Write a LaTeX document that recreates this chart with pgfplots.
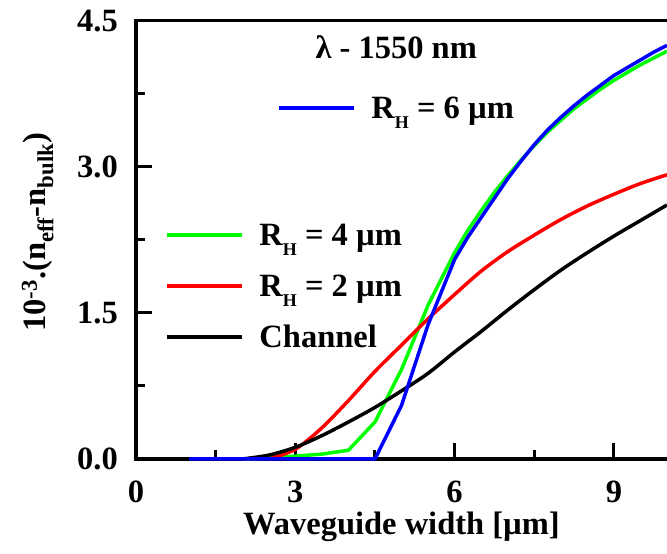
\documentclass[border=0pt]{standalone}
\usepackage{fontspec}
\setmainfont{Liberation Serif}
\usepackage{pgfplots}
\usepackage{pgfplotstable}
\pgfplotsset{compat=1.18}

\definecolor{cblue}{RGB}{0,0,255}
\definecolor{cgreen}{RGB}{0,255,0}
\definecolor{cred}{RGB}{255,0,0}

\newcommand{\lblfont}{\fontsize{32.5bp}{37bp}\selectfont\bfseries}
\newcommand{\subH}{\raisebox{-0.32em}{\fontsize{18bp}{18bp}\selectfont H}}

% effective index difference (x 1e-3) vs. waveguide width in um
\pgfplotstableread{
x y
2.0 0.00
2.5 0.04
3.0 0.12
3.5 0.24
4.0 0.38
4.5 0.53
5.0 0.70
5.5 0.88
6.0 1.10
6.5 1.31
7.0 1.53
7.5 1.74
8.0 1.94
8.5 2.12
9.0 2.29
9.5 2.45
10.0 2.61
}\channel
\pgfplotstableread{
x y
2.5 0.00
3.0 0.10
3.5 0.32
4.0 0.60
4.5 0.90
5.0 1.17
5.5 1.44
6.0 1.69
6.5 1.93
7.0 2.13
7.5 2.30
8.0 2.46
8.5 2.60
9.0 2.72
9.5 2.83
10.0 2.92
}\rhtwo
\pgfplotstableread{
x y
2.0 0.00
2.5 0.01
3.0 0.03
3.5 0.05
4.0 0.09
4.5 0.38
5.0 0.92
5.5 1.58
6.0 2.12
6.25 2.35
6.5 2.55
6.75 2.74
7.0 2.91
7.25 3.07
7.5 3.22
7.75 3.36
8.0 3.48
8.25 3.60
8.5 3.70
8.75 3.80
9.0 3.89
9.25 3.97
9.5 4.05
9.75 4.12
10.0 4.19
}\rhfour
\pgfplotstableread{
x y
1.0 0.00
2.0 0.00
3.0 0.00
4.0 0.00
4.5 0.00
5.0 0.55
5.5 1.38
6.0 2.05
6.25 2.28
6.5 2.48
6.75 2.68
7.0 2.88
7.25 3.06
7.5 3.23
7.75 3.38
8.0 3.51
8.25 3.63
8.5 3.74
8.75 3.84
9.0 3.94
9.25 4.02
9.5 4.10
9.75 4.18
10.0 4.25
}\rhsix

\pgfplotsset{
  common/.style={
    scale only axis, width=531bp, height=438bp,
    at={(136bp,95bp)}, anchor=south west,
    xmin=0, xmax=10, ymin=0, ymax=4.5, clip=false,
  },
  leg/.style={
    legend style={draw=none, fill=none, inner sep=0pt, outer sep=0pt,
      font=\lblfont, row sep=31bp, column sep=16bp,
      nodes={inner sep=0pt, text height=20bp, text depth=0bp, anchor=west}},
    legend cell align=left,
    legend image code/.code={\draw[##1, line width=3.5bp] (0bp,0bp) -- (75bp,0bp);},
  },
  curve/.style={line width=3.5bp, line join=round},
}

\begin{document}
\begin{tikzpicture}
\begin{axis}[common, leg,
  axis x line=box, axis y line=left,
  axis line style={-, line width=3bp, line cap=rect},
  every outer y axis line/.append style={-},
  xtick={0,3,6,9}, ytick={0,1.5,3,4.5},
  minor x tick num=1, minor y tick num=1,
  xtick pos=left, ytick pos=left,
  tick align=inside,
  major tick length=16bp, minor tick length=9bp,
  every tick/.style={black, line width=3bp},
  /pgf/number format/assume math mode=true,
  ticklabel style={font=\lblfont},
  yticklabel style={/pgf/number format/.cd, fixed, fixed zerofill, precision=1, /tikz/.cd, inner sep=0pt, xshift=-18bp},
  xticklabel style={inner sep=0pt, yshift=-22bp},
  xlabel={Waveguide width [µm]},
  xlabel style={at={(axis description cs:0.5,-0.155)}, anchor=center, font=\lblfont},
  ylabel={10\textsuperscript{-3}.(n\textsubscript{eff}-n\textsubscript{bulk})},
  ylabel style={at={(axis description cs:-0.185,0.518)}, anchor=center, font=\lblfont},
  legend style={at={(axis description cs:0.0546,0.534)}, anchor=north west},
]
\addplot[curve, cgreen] table {\rhfour};
\addlegendentry{R\subH{} = 4 µm}
\addplot[curve, cred, smooth] table {\rhtwo};
\addlegendentry{R\subH{} = 2 µm}
\addplot[curve, black, smooth] table {\channel};
\addlegendentry{Channel}
\node[font=\lblfont] at (axis description cs:0.49,0.94) {λ - 1550 nm};
\end{axis}
\begin{axis}[common, leg, hide axis,
  legend style={at={(axis description cs:0.2655,0.824)}, anchor=north west},
]
\addplot[curve, cblue] table {\rhsix};
\addlegendentry{R\subH{} = 6 µm}
\end{axis}
\pgfresetboundingbox
\path[use as bounding box] (0,0) rectangle (667bp,554bp);
\end{tikzpicture}
\end{document}
